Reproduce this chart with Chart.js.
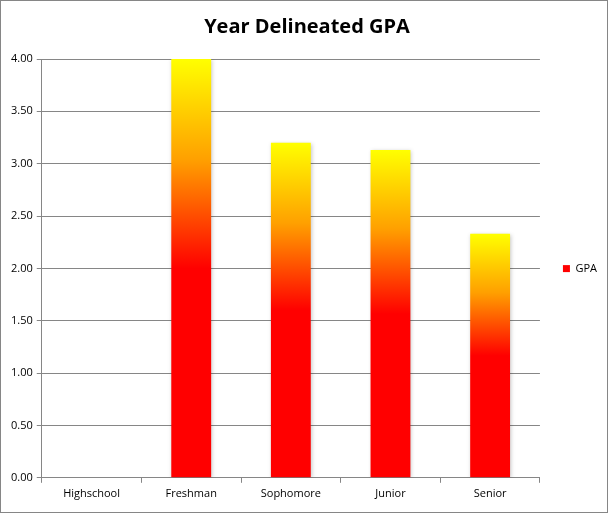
<!DOCTYPE html>
<html>
<head>
<meta charset="utf-8">
<script src="https://cdn.jsdelivr.net/npm/chart.js@4"></script>
<style>
    html, body { margin: 0; padding: 0; background: #fff; }
    #wrap {
        position: relative;
        width: 606px;
        height: 511px;
        border: 1px solid #868686;
    }
</style>
</head>
<body>
<div id="wrap"><canvas id="gpaChart"></canvas></div>
<script>
const years = ['Highschool', 'Freshman', 'Sophomore', 'Junior', 'Senior'];
const gpaValues = [null, 4.00, 3.20, 3.13, 2.33];
const yTicks = [0, 0.5, 1, 1.5, 2, 2.5, 3, 3.5, 4];

// gradient per bar: red bottom half, orange, yellow top
function fireGradient(ctx, bottom, top) {
    const g = ctx.createLinearGradient(0, bottom, 0, top);
    g.addColorStop(0, '#FF0000');
    g.addColorStop(0.5, '#FF0000');
    g.addColorStop(0.76, '#FFA000');
    g.addColorStop(1, '#FFFF00');
    return g;
}

const barShadow = {
    id: 'barShadow',
    beforeDatasetsDraw(chart) {
        const ctx = chart.ctx;
        ctx.save();
        ctx.shadowColor = 'rgba(0,0,0,0.22)';
        ctx.shadowBlur = 4;
        ctx.shadowOffsetX = 1;
        ctx.shadowOffsetY = 1;
    },
    afterDatasetsDraw(chart) {
        chart.ctx.restore();
    }
};

const ctx = document.getElementById('gpaChart').getContext('2d');

new Chart(ctx, {
    type: 'bar',
    data: {
        labels: years,
        datasets: [{
            label: 'GPA',
            data: gpaValues,
            backgroundColor: function (context) {
                const chart = context.chart;
                const { chartArea, scales } = chart;
                if (!chartArea || context.type !== 'data' || context.raw == null) {
                    return '#FF0000';
                }
                const top = scales.y.getPixelForValue(context.raw);
                const bottom = scales.y.getPixelForValue(0);
                return fireGradient(chart.ctx, bottom, top);
            },
            borderWidth: 0,
            categoryPercentage: 1,
            barPercentage: 0.4
        }]
    },
    options: {
        responsive: true,
        maintainAspectRatio: false,
        animation: false,
        layout: {
            padding: { left: 6, right: 0, top: 0, bottom: 8 }
        },
        plugins: {
            title: {
                display: true,
                text: 'Year Delineated GPA',
                color: '#000',
                font: { family: 'Open Sans', size: 20, weight: 'bold' },
                padding: { top: 14, bottom: 20 }
            },
            legend: {
                display: true,
                position: 'right',
                title: {
                    display: true,
                    text: ' ',
                    font: { family: 'Open Sans', size: 11 },
                    padding: { top: 0, bottom: 19 }
                },
                labels: {
                    color: '#000',
                    boxWidth: 7,
                    boxHeight: 7,
                    padding: 23,
                    font: { family: 'Open Sans', size: 11 }
                }
            },
            tooltip: { enabled: false }
        },
        scales: {
            y: {
                min: 0,
                max: 4,
                afterBuildTicks: function (axis) {
                    axis.ticks = yTicks.map(v => ({ value: v }));
                },
                ticks: {
                    color: '#000',
                    padding: 4,
                    font: { family: 'Open Sans', size: 11 },
                    callback: function (value) {
                        return Number(value).toFixed(2);
                    }
                },
                grid: {
                    color: '#868686',
                    lineWidth: 1,
                    drawTicks: true,
                    tickLength: 5
                },
                border: { color: '#868686', width: 1 }
            },
            x: {
                offset: true,
                ticks: {
                    color: '#000',
                    padding: 4,
                    font: { family: 'Open Sans', size: 11 }
                },
                grid: {
                    offset: true,
                    drawOnChartArea: false,
                    drawTicks: true,
                    tickLength: 5,
                    color: '#868686'
                },
                border: { color: '#868686', width: 1 }
            }
        }
    },
    plugins: [barShadow]
});
</script>
</body>
</html>
